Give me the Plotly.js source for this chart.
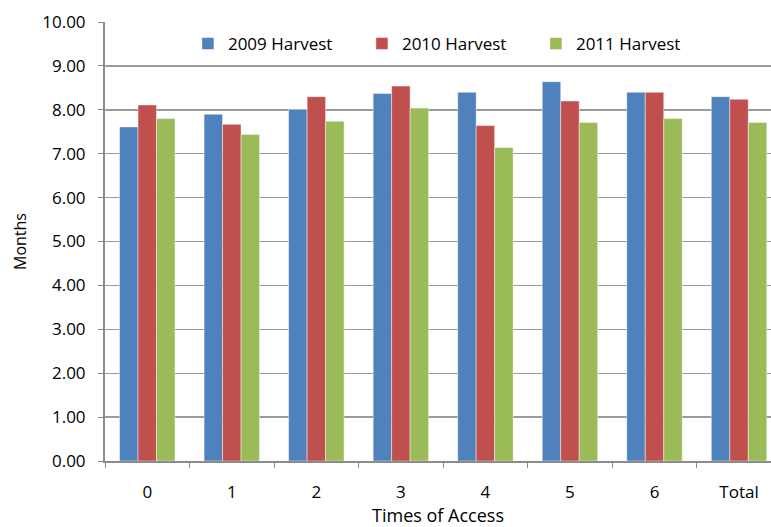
<!DOCTYPE html>
<html>
<head>
<meta charset="utf-8">
<script src="https://cdn.plot.ly/plotly-3.0.1.min.js"></script>
<style>
  html, body { margin: 0; padding: 0; background: #fff; }
  #chart { width: 771px; height: 527px; }
</style>
</head>
<body>
<div id="chart"></div>
<script>
// Mean storage time (months) by number of times the store was accessed
const categories = ['0', '1', '2', '3', '4', '5', '6', 'Total'];
const harvest2009 = [7.61, 7.90, 8.01, 8.37, 8.40, 8.64, 8.40, 8.30];
const harvest2010 = [8.11, 7.67, 8.30, 8.54, 7.64, 8.20, 8.40, 8.24];
const harvest2011 = [7.80, 7.44, 7.74, 8.04, 7.14, 7.71, 7.80, 7.71];
const seriesNames = ['2009 Harvest', '2010 Harvest', '2011 Harvest'];
const yTicks = [0, 1, 2, 3, 4, 5, 6, 7, 8, 9, 10];

const colors = ['#4F81BD', '#C0504D', '#9BBB59'];
const font = 'Open Sans, Lato, sans-serif';

const traces = [harvest2009, harvest2010, harvest2011].map((vals, i) => ({
  type: 'bar',
  name: seriesNames[i],
  x: categories,
  y: vals,
  marker: { color: colors[i], line: { color: 'rgba(255,255,255,0.45)', width: 1 } },
  hoverinfo: 'x+y+name'
}));

const layout = {
  width: 771,
  height: 527,
  margin: { l: 105, r: 0, t: 22, b: 66, pad: 0 },
  paper_bgcolor: '#ffffff',
  plot_bgcolor: '#ffffff',
  font: { family: font, size: 17, color: '#000' },
  barmode: 'group',
  bargap: 0.344,
  bargroupgap: 0,
  showlegend: true,
  legend: {
    orientation: 'h',
    x: 0.1245, xanchor: 'left',
    y: 0.95, yanchor: 'middle',
    entrywidth: 129, entrywidthmode: 'pixels',
    font: { family: font, size: 17, color: '#000' },
    bgcolor: 'rgba(0,0,0,0)'
  },
  xaxis: {
    type: 'category',
    range: [-0.5, 7.378],
    showgrid: false,
    showline: true,
    linecolor: '#8c8c8c',
    linewidth: 2,
    ticks: 'outside',
    tickson: 'boundaries',
    ticklen: 5,
    tickcolor: '#8c8c8c',
    tickwidth: 1,
    ticklabelstandoff: 15,
    tickfont: { family: font, size: 17, color: '#000' },
    title: { text: 'Times of Access', font: { family: font, size: 18, color: '#000' }, standoff: 8 },
    fixedrange: true
  },
  yaxis: {
    range: [0, 10],
    tickvals: yTicks,
    tickformat: '.2f',
    showgrid: true,
    gridcolor: '#9a9a9a',
    gridwidth: 1.4,
    zeroline: false,
    showline: true,
    linecolor: '#8c8c8c',
    linewidth: 2,
    ticks: 'outside',
    ticklen: 5,
    tickcolor: '#8c8c8c',
    tickwidth: 1,
    ticklabelstandoff: 9,
    tickfont: { family: font, size: 17, color: '#000' },
    title: { text: 'Months', font: { family: font, size: 16, color: '#000' }, standoff: 12 },
    fixedrange: true
  }
};

Plotly.newPlot('chart', traces, layout, { displayModeBar: false, staticPlot: true });
</script>
</body>
</html>
